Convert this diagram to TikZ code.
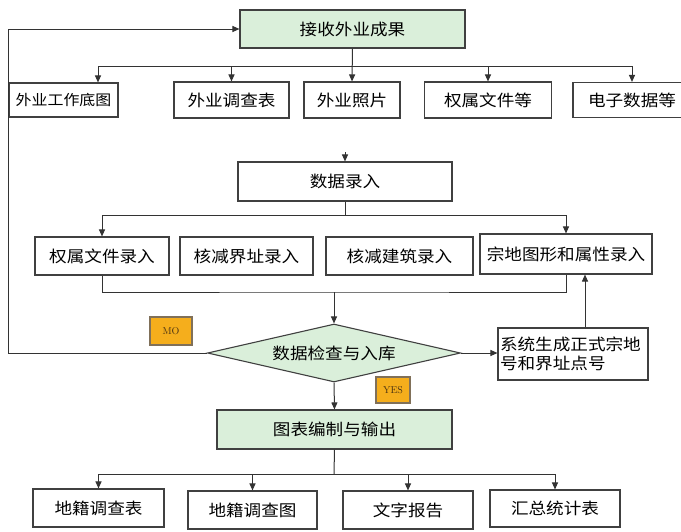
\documentclass[tikz,border=0pt]{standalone}
\usepackage{fontspec}
\usepackage{tikz}
\usetikzlibrary{arrows.meta, shapes.geometric, calc}
\newfontfamily\cjk[FakeStretch=1.1]{Noto Sans CJK SC}
\definecolor{boxgreen}{HTML}{DAEFDA}
\definecolor{tagorange}{HTML}{F5AE1C}
\definecolor{tagbrown}{HTML}{4A3212}

\begin{document}
\begin{tikzpicture}[x=1pt,y=-1pt,>={Triangle[length=7pt,width=6pt]},
  every node/.style={font=\cjk\fontsize{16}{19}\selectfont,inner sep=0pt},
  plainbox/.style={draw=black!75,line width=1.1pt,fill=white,align=center},
  greenbox/.style={plainbox,fill=boxgreen},
  tagbox/.style={draw=tagbrown!70,line width=1.1pt,fill=tagorange,text=tagbrown,
    font=\rmfamily\fontsize{10}{11}\selectfont},
  link/.style={draw=black!80,line width=1pt}]
\useasboundingbox[fill=white] (0,0) rectangle (681,531);
% top
\node[greenbox,minimum width=225,minimum height=38] (recv) at (352.5,29) {接收外业成果};
\node[plainbox,minimum width=109,minimum height=34,font=\cjk\fontsize{14.5}{17}\selectfont] (base) at (63.5,100) {外业工作底图};
\node[plainbox,minimum width=115,minimum height=36] (survey) at (231.5,100) {外业调查表};
\node[plainbox,minimum width=96,minimum height=36] (photo) at (352,100) {外业照片};
\node[plainbox,minimum width=127,minimum height=36] (rights) at (488,100) {权属文件等};
\node[plainbox,minimum width=118,minimum height=35] (elec) at (632,100) {电子数据等};
\coordinate (b1) at (352,66);
\coordinate (b1l) at (98,66);
\draw[link,->] (recv.south) -- (photo.north);
\draw[link] (b1l) -- (elec.north |- b1);
\draw[link,->] (b1l) -- (b1l |- base.north);
\foreach \n in {survey,rights,elec}
  \draw[link,->] (\n.north |- b1) -- (\n.north);
% data entry
\node[plainbox,minimum width=214,minimum height=39] (entry) at (345,181.5) {数据录入};
\coordinate (ein) at (345,152);
\draw[link,->] (ein) -- (entry.north);
\node[plainbox,minimum width=134,minimum height=38] (own) at (102,256) {权属文件录入};
\node[plainbox,minimum width=133,minimum height=38] (bnd) at (246.5,256) {核减界址录入};
\node[plainbox,minimum width=147,minimum height=38] (bld) at (399.5,256) {核减建筑录入};
\node[plainbox,minimum width=172,minimum height=40] (parcel) at (566,254) {宗地图形和属性录入};
\coordinate (b2) at (345,215);
\draw[link] (entry.south) -- (b2);
\draw[link,->] (b2) -| (own.north);
\draw[link,->] (b2) -| (parcel.north);
% check
\node[draw=black!75,line width=1.1pt,fill=boxgreen,diamond,aspect=4.3,
  minimum width=253,minimum height=58] (chk) at (334,353) {数据检查与入库};
\coordinate (j2) at (334,292);
\draw[link] (own.south) |- (j2) -| (parcel.south);
\draw[link,->] (j2) -- (chk.north);
\node[tagbox,minimum width=42,minimum height=28] (no) at (171,331) {MO};
\node[tagbox,minimum width=34,minimum height=26] (yes) at (393,390) {YES};
\coordinate (fb) at (8,0);
\draw[link,->] (chk.west) -| (fb |- recv.west) -- (recv.west);
\node[plainbox,minimum width=150,minimum height=52,align=left,text width=146] (sys) at (573,354)
  {系统生成正式宗地\\号和界址点号};
\draw[link,->] (chk.east) -- (chk.east -| sys.west);
\draw[link,->] ([xshift=12pt]sys.north) -- ([xshift=12pt]sys.north |- parcel.south);
% output
\node[greenbox,minimum width=235,minimum height=39] (chart) at (334.5,429.5) {图表编制与输出};
\draw[link,->] (chk.south) -- (chart.north);
\node[plainbox,minimum width=131,minimum height=38] (tab) at (98.5,508) {地籍调查表};
\node[plainbox,minimum width=129,minimum height=38] (map) at (252.5,510) {地籍调查图};
\node[plainbox,minimum width=130,minimum height=38] (rep) at (408,510) {文字报告};
\node[plainbox,minimum width=130,minimum height=37] (sum) at (555,508.5) {汇总统计表};
\coordinate (b3) at (334,474);
\draw[link] (chart.south) -- (b3);
\foreach \n in {tab,map,rep,sum}
  \draw[link,->] (b3) -| (\n.north);
\end{tikzpicture}
\end{document}
